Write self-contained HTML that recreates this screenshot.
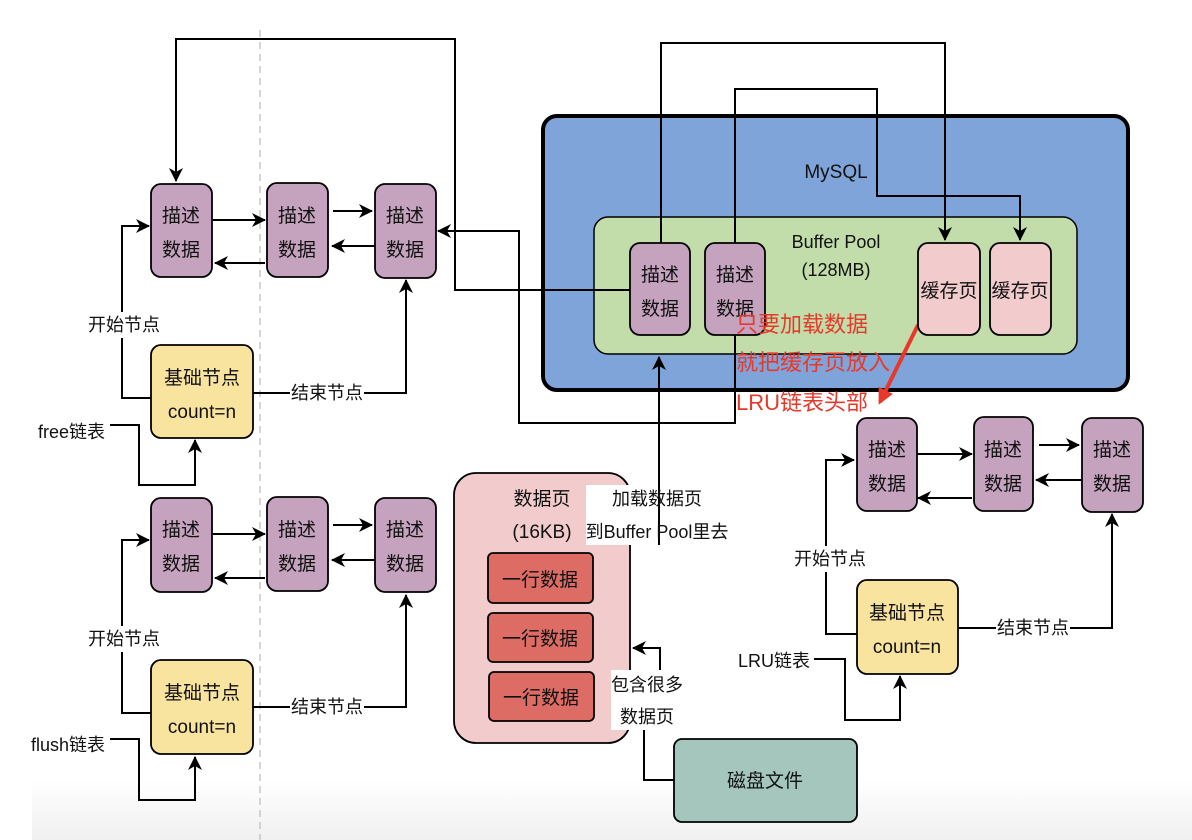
<!DOCTYPE html>
<html><head><meta charset="utf-8"><style>
html,body{margin:0;padding:0;background:#fff;}
svg{display:block;}
text{font-family:"Liberation Sans","Noto Sans CJK SC",sans-serif;fill:#111;}
</style></head><body>
<svg width="1192" height="840" viewBox="0 0 1192 840" xmlns="http://www.w3.org/2000/svg">
<defs>
<marker id="a" markerWidth="16" markerHeight="16" refX="13" refY="8" orient="auto" markerUnits="userSpaceOnUse">
<path d="M0,1 L14,8 L0,15 L4,8 Z" fill="#000"/></marker>
<marker id="r" markerWidth="18" markerHeight="18" refX="13" refY="9" orient="auto" markerUnits="userSpaceOnUse">
<path d="M0,1 L16,9 L0,17 Z" fill="#e8382a"/></marker>
<linearGradient id="g" x1="0" y1="0" x2="0" y2="1"><stop offset="0" stop-color="#fff"/><stop offset="1" stop-color="#f0f0f0"/></linearGradient>
</defs>
<rect x="32" y="780" width="1160" height="60" fill="url(#g)"/>
<line x1="260" y1="30" x2="260" y2="840" stroke="#bbb" stroke-width="1.2" stroke-dasharray="7,5"/>

<rect x="543" y="116" width="585" height="274" rx="14" fill="#7fa4d9" stroke="#000" stroke-width="4"/>
<text x="836" y="178" font-size="19" text-anchor="middle">MySQL</text>
<rect x="594" y="217" width="483" height="137" rx="14" fill="#c2ddaa" stroke="#000" stroke-width="1.5"/>
<text x="836" y="248" font-size="18" text-anchor="middle">Buffer Pool</text>
<text x="836" y="276" font-size="18" text-anchor="middle">(128MB)</text>

<g fill="none" stroke="#000" stroke-width="2">
<polyline points="630,290 455,290 455,39 176,39 176,181" marker-end="url(#a)"/>
<polyline points="661,245 661,43 945,43 945,240" marker-end="url(#a)"/>
<polyline points="735,245 735,89 877,89 877,196 1020,196 1020,240" marker-end="url(#a)"/>
<polyline points="735,335 735,423 519,423 519,231 438,231" marker-end="url(#a)"/>
<polyline points="659,485 659,357" marker-end="url(#a)"/>
<line x1="213" y1="220" x2="265" y2="220" marker-end="url(#a)"/>
<line x1="265" y1="263" x2="215" y2="263" marker-end="url(#a)"/>
<line x1="333" y1="211" x2="372" y2="211" marker-end="url(#a)"/>
<line x1="375" y1="246" x2="332" y2="246" marker-end="url(#a)"/>
<polyline points="151,398 122,398 122,226 149,226" marker-end="url(#a)"/>
<polyline points="253,393 406,393 406,280" marker-end="url(#a)"/>
<polyline points="110,425 139,425 139,485 195,485 195,440" marker-end="url(#a)"/>
<line x1="213" y1="534" x2="265" y2="534" marker-end="url(#a)"/>
<line x1="265" y1="578" x2="215" y2="578" marker-end="url(#a)"/>
<line x1="333" y1="525" x2="372" y2="525" marker-end="url(#a)"/>
<line x1="375" y1="560" x2="332" y2="560" marker-end="url(#a)"/>
<polyline points="151,713 122,713 122,540 149,540" marker-end="url(#a)"/>
<polyline points="253,707 406,707 406,595" marker-end="url(#a)"/>
<polyline points="110,739 139,739 139,800 195,800 195,757" marker-end="url(#a)"/>
<line x1="917" y1="454" x2="972" y2="454" marker-end="url(#a)"/>
<line x1="972" y1="498" x2="918" y2="498" marker-end="url(#a)"/>
<line x1="1039" y1="445" x2="1079" y2="445" marker-end="url(#a)"/>
<line x1="1082" y1="480" x2="1036" y2="480" marker-end="url(#a)"/>
<polyline points="857,634 826,634 826,460 854,460" marker-end="url(#a)"/>
<polyline points="959,628 1112,628 1112,514" marker-end="url(#a)"/>
<polyline points="814,659 845,659 845,720 900,720 900,676" marker-end="url(#a)"/>
<polyline points="674,780 644,780 644,730"/>
<polyline points="660,670 660,648 633,648" marker-end="url(#a)"/>
</g>
<line x1="918" y1="325" x2="880" y2="402" stroke="#e8382a" stroke-width="4" marker-end="url(#r)"/>

<g fill="#fff">
<rect x="86" y="312" width="76" height="26"/><rect x="290" y="380" width="74" height="26"/>
<rect x="86" y="626" width="76" height="26"/><rect x="290" y="694" width="74" height="26"/>
<rect x="793" y="546" width="74" height="26"/><rect x="996" y="615" width="74" height="26"/>
</g>

<g stroke="#000" stroke-width="1.8">
<g fill="#c5a3bf">
<rect x="151" y="184" width="61" height="93" rx="10"/><rect x="267" y="183" width="61" height="94" rx="10"/><rect x="375" y="184" width="61" height="94" rx="10"/>
<rect x="151" y="498" width="61" height="94" rx="10"/><rect x="267" y="497" width="61" height="94" rx="10"/><rect x="375" y="498" width="61" height="94" rx="10"/>
<rect x="630" y="243" width="60" height="92" rx="10"/><rect x="705" y="243" width="60" height="92" rx="10"/>
<rect x="857" y="418" width="60" height="93" rx="10"/><rect x="974" y="417" width="59" height="94" rx="10"/><rect x="1082" y="418" width="61" height="94" rx="10"/>
</g>
<g fill="#f8e49f">
<rect x="151" y="345" width="102" height="93" rx="10"/><rect x="151" y="660" width="102" height="94" rx="10"/><rect x="857" y="580" width="101" height="94" rx="10"/>
</g>
<g fill="#f2cccc">
<rect x="918" y="243" width="62" height="92" rx="10"/><rect x="990" y="243" width="61" height="92" rx="10"/>
<rect x="454" y="473" width="176" height="270" rx="22"/>
</g>
<g fill="#dd6c64">
<rect x="488" y="553" width="105" height="50" rx="5"/><rect x="488" y="613" width="105" height="49" rx="5"/><rect x="489" y="672" width="105" height="49" rx="5"/>
</g>
<rect x="674" y="739" width="183" height="83" rx="8" fill="#a4c6bd"/>
</g>
<rect x="586" y="485" width="142" height="60" fill="#fff"/>
<rect x="611" y="670" width="72" height="60" fill="#fff"/>
<line x1="659" y1="485" x2="659" y2="545" stroke="#000" stroke-width="2"/>

<g font-size="19" text-anchor="middle">
<text x="181" y="222">描述</text><text x="181" y="256">数据</text>
<text x="297" y="222">描述</text><text x="297" y="256">数据</text>
<text x="405" y="222">描述</text><text x="405" y="256">数据</text>
<text x="181" y="536">描述</text><text x="181" y="570">数据</text>
<text x="297" y="536">描述</text><text x="297" y="570">数据</text>
<text x="405" y="536">描述</text><text x="405" y="570">数据</text>
<text x="660" y="281">描述</text><text x="660" y="315">数据</text>
<text x="735" y="281">描述</text><text x="735" y="315">数据</text>
<text x="887" y="456">描述</text><text x="887" y="490">数据</text>
<text x="1003" y="456">描述</text><text x="1003" y="490">数据</text>
<text x="1112" y="456">描述</text><text x="1112" y="490">数据</text>
<text x="202" y="384">基础节点</text><text x="202" y="418">count=n</text>
<text x="202" y="699">基础节点</text><text x="202" y="733">count=n</text>
<text x="907" y="619">基础节点</text><text x="907" y="653">count=n</text>
<text x="949" y="297">缓存页</text><text x="1020" y="297">缓存页</text>
<text x="540" y="586">一行数据</text><text x="540" y="645">一行数据</text><text x="541" y="704">一行数据</text>
<text x="765" y="787">磁盘文件</text>
<text x="542" y="505">数据页</text><text x="542" y="538">(16KB)</text>
</g>
<g font-size="18" text-anchor="middle">
<text x="124" y="331">开始节点</text><text x="327" y="399">结束节点</text>
<text x="124" y="645">开始节点</text><text x="327" y="713">结束节点</text>
<text x="830" y="565">开始节点</text><text x="1033" y="634">结束节点</text>
<text x="657" y="505">加载数据页</text><text x="657" y="538">到Buffer Pool里去</text>
<text x="647" y="691">包含很多</text><text x="647" y="723">数据页</text>
</g>
<g font-size="18" text-anchor="end">
<text x="105" y="438">free链表</text><text x="105" y="751">flush链表</text><text x="810" y="667">LRU链表</text>
</g>
<g font-size="22">
<text x="736" y="332" style="fill:#e8382a">只要加载数据</text>
<text x="736" y="370" style="fill:#e8382a">就把缓存页放入</text>
<text x="736" y="410" style="fill:#e8382a">LRU链表头部</text>
</g>
</svg>
</body></html>
